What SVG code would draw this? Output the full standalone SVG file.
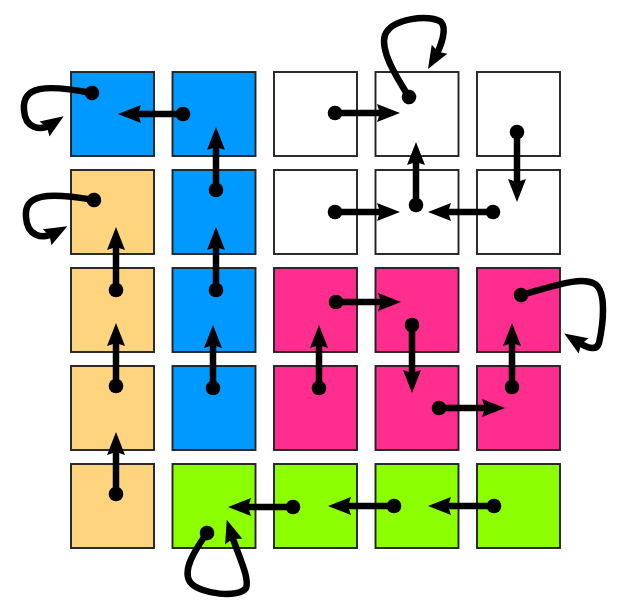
<svg xmlns="http://www.w3.org/2000/svg" width="632" height="615" viewBox="0 0 632 615">
<style>
.n rect{stroke:#222;stroke-width:1.9;width:83px;height:84px}
.b rect{fill:#0099FF}.p rect{fill:#FFD47F}.k rect{fill:#FF2D8E}.g rect{fill:#8CFF00}.w rect{fill:#FFFFFF}
.e path{fill:none;stroke:#000;stroke-width:6.5;stroke-linecap:butt;marker-start:url(#dot);marker-end:url(#head)}
</style>
<defs>
<marker id="head" markerUnits="userSpaceOnUse" viewBox="0 0 24 18" markerWidth="24" markerHeight="18" refX="9" refY="9" orient="auto" overflow="visible"><path d="M0,0 L23,9 L0,18 L3,9 Z" fill="#000"/></marker>
<marker id="dot" markerUnits="userSpaceOnUse" viewBox="-8 -8 16 16" markerWidth="16" markerHeight="16" refX="0" refY="0" orient="auto" overflow="visible"><circle r="7.3" fill="#000"/></marker>
</defs>
<rect width="632" height="615" fill="#fff"/>
<g id="n00" class="n b"><rect x="71" y="72"/></g>
<g id="n10" class="n b"><rect x="172.5" y="72"/></g>
<g id="n20" class="n w"><rect x="274" y="72"/></g>
<g id="n30" class="n w"><rect x="375.5" y="72"/></g>
<g id="n40" class="n w"><rect x="477" y="72"/></g>
<g id="n01" class="n p"><rect x="71" y="170"/></g>
<g id="n11" class="n b"><rect x="172.5" y="170"/></g>
<g id="n21" class="n w"><rect x="274" y="170"/></g>
<g id="n31" class="n w"><rect x="375.5" y="170"/></g>
<g id="n41" class="n w"><rect x="477" y="170"/></g>
<g id="n02" class="n p"><rect x="71" y="268"/></g>
<g id="n12" class="n b"><rect x="172.5" y="268"/></g>
<g id="n22" class="n k"><rect x="274" y="268"/></g>
<g id="n32" class="n k"><rect x="375.5" y="268"/></g>
<g id="n42" class="n k"><rect x="477" y="268"/></g>
<g id="n03" class="n p"><rect x="71" y="366"/></g>
<g id="n13" class="n b"><rect x="172.5" y="366"/></g>
<g id="n23" class="n k"><rect x="274" y="366"/></g>
<g id="n33" class="n k"><rect x="375.5" y="366"/></g>
<g id="n43" class="n k"><rect x="477" y="366"/></g>
<g id="n04" class="n p"><rect x="71" y="464"/></g>
<g id="n14" class="n g"><rect x="172.5" y="464"/></g>
<g id="n24" class="n g"><rect x="274" y="464"/></g>
<g id="n34" class="n g"><rect x="375.5" y="464"/></g>
<g id="n44" class="n g"><rect x="477" y="464"/></g>
<g id="connectors" class="e">
<path d="M183,114 L132,114"/>
<path d="M216,190 L216,141"/>
<path d="M116,290 L116,241"/>
<path d="M216,290 L216,241"/>
<path d="M116,386 L116,337"/>
<path d="M213,388 L213,339"/>
<path d="M116,494 L116,446"/>
<path d="M293,507 L242,507"/>
<path d="M394,506 L342,506"/>
<path d="M494,506 L442,506"/>
<path d="M335,113 L386,113"/>
<path d="M416,205 L416,156"/>
<path d="M335,212 L386,212"/>
<path d="M493,212 L442,212"/>
<path d="M517,132 L517,188"/>
<path d="M336,302 L387,302"/>
<path d="M412,325 L412,379"/>
<path d="M319,388 L319,339"/>
<path d="M439,408 L491,408"/>
<path d="M512,387 L512,337"/>
<path d="M92,93 C45,84 22,86 24,110 C25,128 40,132 52,124"/>
<path d="M94,200 C47,192 24,194 26,217 C27,236 42,240 55,233"/>
<path d="M409,97 C395,75 380,50 385,35 C392,18 430,14 441,22 C447,28 442,45 435,57"/>
<path d="M521,295 C555,286 580,276 595,284 C607,292 603,325 599,343 C597,350 590,350 576,341"/>
<path d="M207,533 C195,550 182,570 190,582 C200,595 240,598 246,588 C250,578 238,555 231,533"/>
</g>
</svg>
